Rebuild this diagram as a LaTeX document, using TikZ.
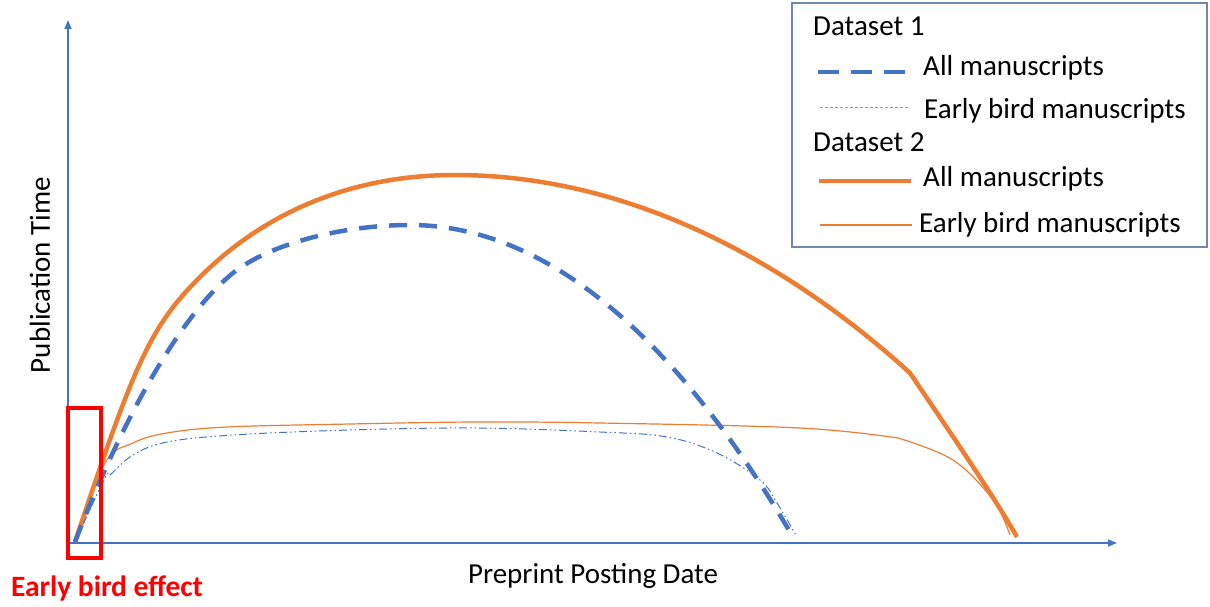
\documentclass[tikz,border=0pt]{standalone}
\usepackage{fontspec}
\setmainfont{Carlito}
\usepackage{xcolor}
\usepackage{tikz}
\usetikzlibrary{positioning,calc,arrows.meta}
\definecolor{axisblue}{HTML}{4472C4}
\definecolor{setorange}{HTML}{ED7D31}
\definecolor{framegray}{HTML}{6F87B8}

\begin{document}
\begin{tikzpicture}[x=1pt, y=-1pt,
    axis/.style={draw=axisblue, line width=1.8pt, -{Triangle[length=9pt,width=7pt]}},
    allone/.style={draw=axisblue, line width=4.5pt, dash pattern=on 18pt off 12pt},
    earlyone/.style={draw=axisblue, line width=1pt, dash pattern=on 8pt off 3pt on 1.5pt off 3pt on 1.5pt off 3pt},
    earlyonekey/.style={draw=axisblue!70, line width=1pt, dash pattern=on 3pt off 2pt},
    alltwo/.style={draw=setorange, line width=4.5pt},
    earlytwo/.style={draw=setorange, line width=1.2pt},
    keytext/.style={font=\fontsize{29}{32}\selectfont, anchor=base west, inner sep=0pt},
    axislabel/.style={font=\fontsize{29}{32}\selectfont, inner sep=0pt}]
    \useasboundingbox (0,0) rectangle (1210,607);

    % Axes
    \coordinate (origin) at (68,543);
    \coordinate (ytop) at (68,20);
    \coordinate (xend) at (1117,543);
    \draw[axis] (origin) -- (ytop);
    \draw[axis] (origin) -- (xend);
    \node (ylabel) at (40,275) [axislabel, rotate=90] {Publication Time};
    \node (xlabel) at (593,576) [axislabel] {Preprint Posting Date};

    % Dataset 2
    \draw[alltwo, line join=round] (75,542) .. controls (135,362) and (150,327) .. (200,277)
        .. controls (260,217) and (345,175) .. (455,175)
        .. controls (650,175) and (810,282) .. (910,373)
        .. controls (945,425) and (990,490) .. (1017,537);
    \draw[earlytwo] plot[smooth, tension=0.6] coordinates {(75,542) (105,463) (133,443) (167,433) (227,427) (350,424) (477,422) (600,423) (800,428) (898,438)}
        -- plot[smooth, tension=0.6] coordinates {(898,438) (953,460) (993,500) (1010,535)};

    % Dataset 1
    \draw[allone] (75,542) .. controls (125,412) and (183,313) .. (233,273)
        .. controls (268,245) and (340,225) .. (410,225)
        .. controls (545,225) and (675,335) .. (793,537);
    \draw[earlyone] plot[smooth, tension=0.6] coordinates {(75,542) (105,478) (110,475) (133,455) (167,442) (233,435) (350,430) (477,428) (600,432) (667,437) (717,453) (760,480) (777,503) (797,537)};

    % Early bird effect
    \draw[red, line width=3.5pt] (68,408) rectangle (101,558);
    \node (effect) at (107,588) [text=red, font=\fontsize{29.5}{32}\selectfont\bfseries, inner sep=0pt] {Early bird effect};

    % Legend
    \draw[framegray, line width=1.3pt] (792,3) rectangle (1207,247);
    \node (setone) at (813,36) [keytext] {Dataset 1};
    \draw[allone, dash pattern=on 21pt off 12pt] (818,72) -- (908,72);
    \node (allonetext) at (923,76) [keytext] {All manuscripts};
    \draw[earlyonekey] (820,108) -- (910,108);
    \node (earlyonetext) at (924,119) [keytext] {Early bird manuscripts};
    \node (settwo) at (813,152) [keytext] {Dataset 2};
    \draw[alltwo] (819,181) -- (911,181);
    \node (alltwotext) at (923,186) [keytext] {All manuscripts};
    \draw[earlytwo] (820,225) -- (912,225);
    \node (earlytwotext) at (919,232) [keytext] {Early bird manuscripts};
\end{tikzpicture}
\end{document}
